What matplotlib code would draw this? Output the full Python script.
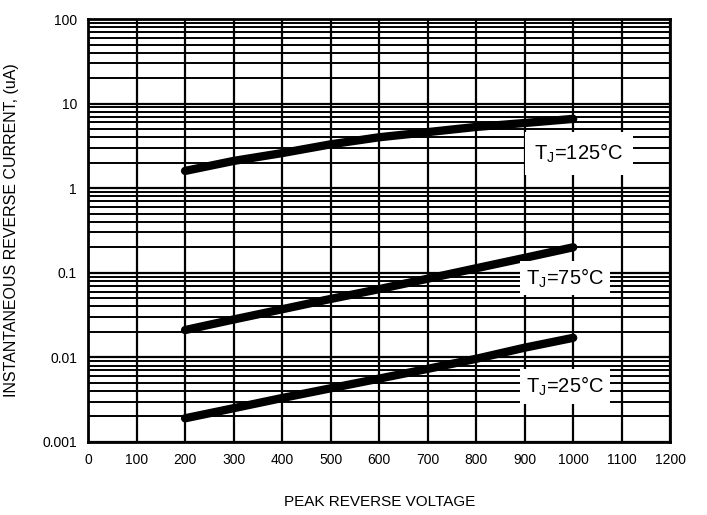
import numpy as np
import matplotlib.pyplot as plt
from matplotlib.ticker import FixedLocator, FixedFormatter, LogLocator, NullFormatter

plt.rcParams['font.family'] = ['Liberation Sans', 'DejaVu Sans']

# Data
voltage = [200, 300, 400, 500, 600, 700, 800, 900, 1000]
i_125 = [1.6, 2.1, 2.6, 3.3, 4.0, 4.6, 5.3, 5.9, 6.6]
i_75 = [0.021, 0.028, 0.037, 0.049, 0.064, 0.085, 0.113, 0.15, 0.2]
i_25 = [0.0019, 0.0025, 0.0033, 0.0043, 0.0056, 0.0073, 0.0096, 0.013, 0.017]

curve_labels = ['T$_\\mathregular{J}$=125°C', 'T$_\\mathregular{J}$=75°C', 'T$_\\mathregular{J}$=25°C']
label_pos = [(920, 2.55), (903, 0.087), (903, 0.0045)]
label_pad = [7, 4, 4]

y_ticks = [0.001, 0.01, 0.1, 1, 10, 100]
y_ticklabels = ['0.001', '0.01', '0.1', '1', '10', '100']
x_ticks = list(range(0, 1201, 100))

fig = plt.figure(figsize=(7.07, 5.15), dpi=100)
ax = fig.add_axes([0.1245, 0.142, 0.8235, 0.821])

ax.set_yscale('log')
ax.set_xlim(0, 1200)
ax.set_ylim(0.001, 100)

ax.set_xticks(x_ticks)
ax.yaxis.set_major_locator(FixedLocator(y_ticks))
ax.yaxis.set_major_formatter(FixedFormatter(y_ticklabels))
ax.yaxis.set_minor_locator(LogLocator(base=10, subs=np.arange(2, 10)))
ax.yaxis.set_minor_formatter(NullFormatter())

ax.grid(True, which='major', color='black', linewidth=1.6)
ax.grid(True, which='minor', axis='y', color='black', linewidth=1.4)
ax.set_axisbelow(True)
ax.tick_params(which='both', length=0, labelsize=10, pad=8)
for s in ax.spines.values():
    s.set_linewidth(2)

for ys in (i_125, i_75, i_25):
    ax.plot(voltage, ys, color='black', linewidth=6, solid_capstyle='round', zorder=3)

for txt, (x, y), p in zip(curve_labels, label_pos, label_pad):
    ax.text(x, y, txt, fontsize=14.5, ha='left', va='center', zorder=4,
            bbox=dict(facecolor='white', edgecolor='none', pad=p))

ax.set_xlabel('PEAK REVERSE VOLTAGE', fontsize=11, labelpad=20)
ax.set_ylabel('INSTANTANEOUS REVERSE CURRENT, (uA)', fontsize=11.5, labelpad=17)

plt.savefig('out.png', dpi=100)
